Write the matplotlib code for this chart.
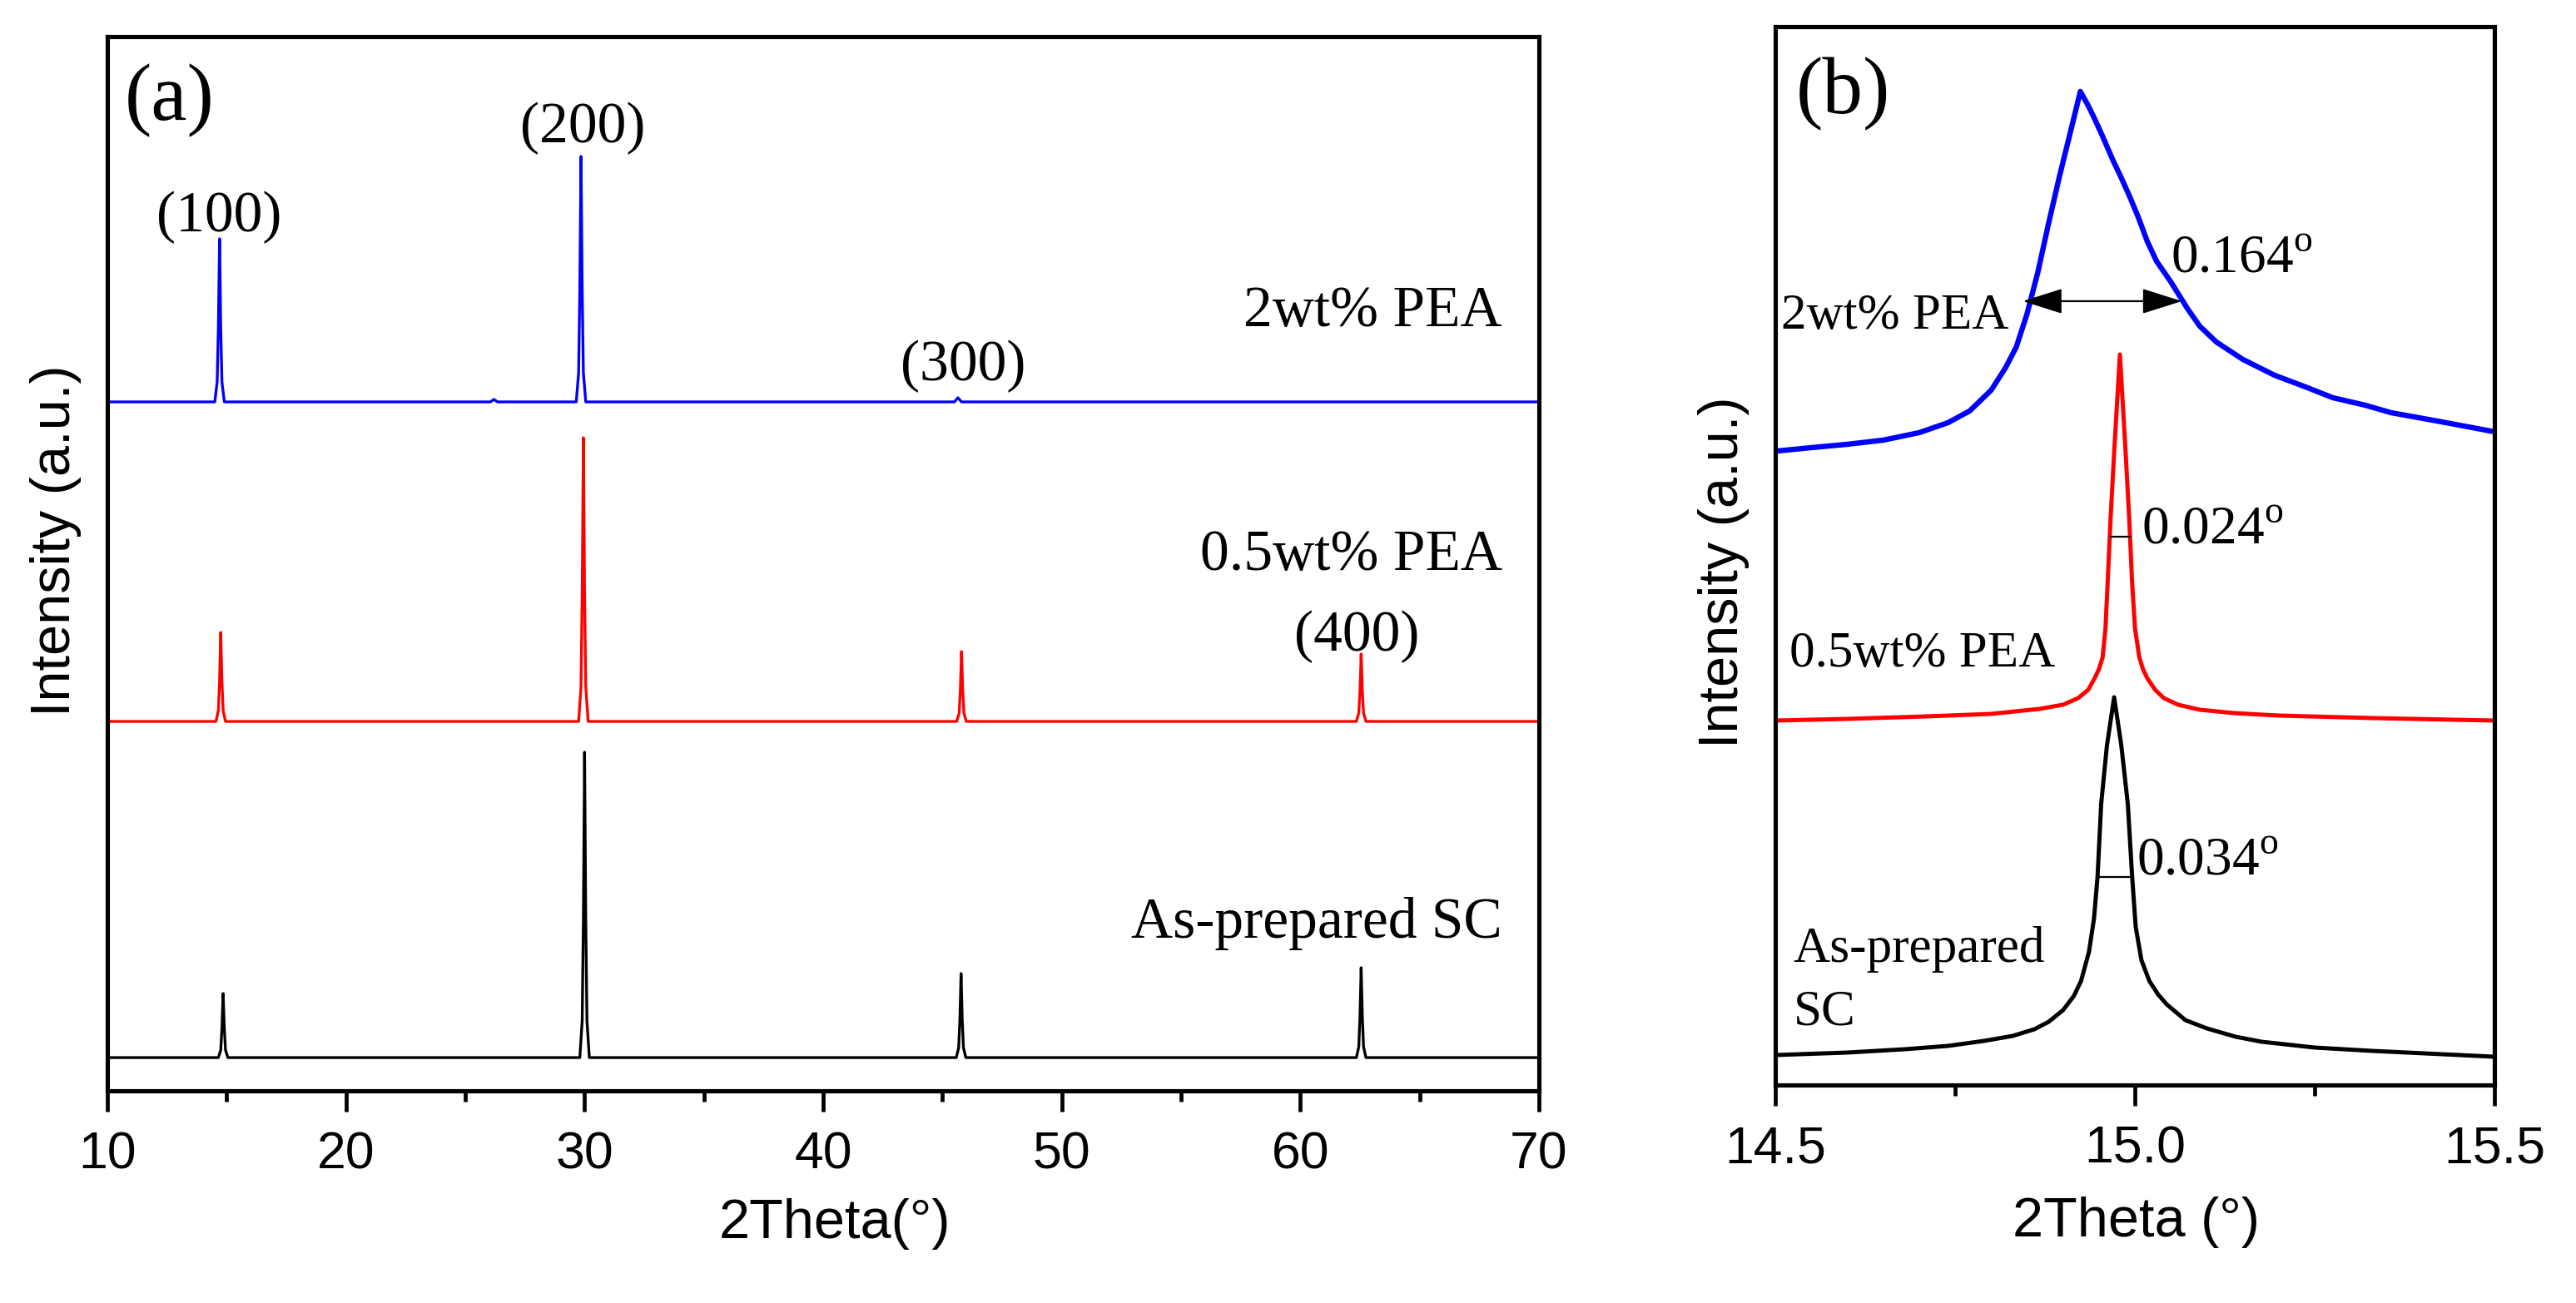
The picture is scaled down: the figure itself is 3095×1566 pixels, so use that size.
import matplotlib
matplotlib.use('Agg')
import matplotlib.pyplot as plt
from matplotlib.ticker import MultipleLocator, FixedLocator, FormatStrFormatter

plt.rcParams.update({
    'font.family': ['Liberation Sans', 'DejaVu Sans'],
    'mathtext.fontset': 'custom',
    'mathtext.rm': 'Liberation Serif',
    'axes.linewidth': 3.7,
})
SERIF = ['Liberation Serif', 'DejaVu Serif']

# ------------------------------------------------------------
# Panel (a): full XRD patterns, intensity above each baseline (a.u.)
# ------------------------------------------------------------
tt_2wt = [10, 14.50, 14.60, 14.65, 14.70, 14.75, 14.80, 14.90,
          26.05, 26.2, 26.35,
          29.65, 29.75, 29.80, 29.85, 29.90, 29.95, 30.05,
          45.50, 45.65, 45.80, 70]
i_2wt = [0, 0, 24, 88, 196, 88, 24, 0,
         0, 3, 0,
         0, 35, 133, 295, 133, 35, 0,
         0, 5, 0, 0]

tt_05wt = [10, 14.55, 14.65, 14.70, 14.75, 14.80, 14.85, 14.95,
           29.75, 29.85, 29.90, 29.95, 30.00, 30.05, 30.15,
           45.60, 45.70, 45.75, 45.80, 45.85, 45.90, 46.00,
           62.35, 62.45, 62.50, 62.55, 62.60, 62.65, 62.75, 70]
i_05wt = [0, 0, 13, 48, 107, 48, 13, 0,
          0, 41, 153, 341, 153, 41, 0,
          0, 10, 38, 84, 38, 10, 0,
          0, 10, 36, 81, 36, 10, 0, 0]

tt_sc = [10, 14.65, 14.75, 14.80, 14.85, 14.90, 14.95, 15.05,
         29.80, 29.90, 29.95, 30.00, 30.05, 30.10, 30.20,
         45.58, 45.68, 45.73, 45.78, 45.83, 45.88, 45.98,
         62.35, 62.45, 62.50, 62.55, 62.60, 62.65, 62.75, 70]
i_sc = [0, 0, 9, 35, 77, 35, 9, 0,
        0, 44, 165, 367, 165, 44, 0,
        0, 12, 45, 101, 45, 12, 0,
        0, 13, 49, 108, 49, 13, 0, 0]

# ------------------------------------------------------------
# Panel (b): zoom on the (100) reflection
# ------------------------------------------------------------
tt_b_2wt = [14.503, 14.55, 14.60, 14.65, 14.70, 14.74, 14.77, 14.80,
            14.82, 14.835, 14.85, 14.865, 14.88, 14.895, 14.905, 14.915,
            14.924, 14.935, 14.944, 14.955, 14.969, 14.98, 14.993, 15.005,
            15.017, 15.03, 15.05, 15.073, 15.09, 15.113, 15.15, 15.194,
            15.24, 15.275, 15.32, 15.356, 15.42, 15.494]
i_b_2wt = [0, 4, 8, 13, 22, 34, 48, 73,
           100, 125, 165, 215, 274, 330, 365, 400,
           432, 415, 399, 378, 350, 330, 305, 280,
           252, 228, 203, 171, 150, 131, 110, 91,
           76, 64, 55, 46, 36, 24]

tt_b_05wt = [14.50, 14.60, 14.71, 14.80, 14.867, 14.90, 14.921, 14.935,
             14.944, 14.950, 14.955, 14.959, 14.962, 14.966, 14.971, 14.979,
             14.987, 14.992, 14.996, 15.000, 15.006, 15.011, 15.017, 15.028,
             15.040, 15.060, 15.090, 15.137, 15.20, 15.33, 15.50]
i_b_05wt = [0, 2, 5, 8, 14, 19, 27, 37,
            51, 62, 76, 111, 166, 242, 322, 440,
            322, 242, 166, 111, 76, 62, 51, 37,
            27, 19, 13, 9, 6, 3, 0]

tt_b_sc = [14.50, 14.60, 14.68, 14.74, 14.79, 14.83, 14.86, 14.88,
           14.90, 14.915, 14.925, 14.936, 14.943, 14.948, 14.953, 14.961,
           14.971, 14.981, 14.990, 14.996, 15.001, 15.009, 15.020, 15.032,
           15.044, 15.070, 15.100, 15.14, 15.176, 15.25, 15.33, 15.50]
i_b_sc = [2, 5, 9, 13, 19, 25, 33, 42,
          56, 73, 91, 126, 166, 217, 304, 374,
          432, 374, 304, 217, 156, 116, 91, 75,
          63, 44, 34, 24, 18, 11, 7, 0]

# FWHM values quoted on panel (b)
fwhm_labels = ['0.164', '0.024', '0.034']

# stacking offsets (a.u.)
off_a = {'sc': 40, '05': 444, '2': 828}
off_b = {'sc': 34, '05': 438, '2': 762}

fig = plt.figure(figsize=(30.95, 15.66), dpi=100)
ax1 = fig.add_axes([0.0417, 0.1628, 0.5557, 0.8091])
ax2 = fig.add_axes([0.6892, 0.1673, 0.2792, 0.8123])

# ---------------- panel (a) ----------------
ax1.plot(tt_sc, [v + off_a['sc'] for v in i_sc], color='black', lw=2.4)
ax1.plot(tt_05wt, [v + off_a['05'] for v in i_05wt], color='#ff0000', lw=2.4)
ax1.plot(tt_2wt, [v + off_a['2'] for v in i_2wt], color='#0000ff', lw=2.4)

ax1.set_xlim(10, 70)
ax1.set_ylim(0, 1267)
ax1.xaxis.set_major_locator(MultipleLocator(10))
ax1.xaxis.set_minor_locator(FixedLocator([15, 25, 35, 45, 55, 65]))

ax1.text(0.0122, 0.921, '(a)', transform=ax1.transAxes, family=SERIF,
         fontsize=70, va='baseline', ha='left')
for lbl, x, y in [('(100)', 14.67, 1033), ('(200)', 29.92, 1140),
                  ('(300)', 45.86, 854), ('(400)', 62.36, 529)]:
    ax1.text(x, y, lbl, family=SERIF, fontsize=50, ha='center', va='baseline')
for lbl, y in [('2wt% PEA', 919), ('0.5wt% PEA', 626), ('As-prepared SC', 184)]:
    ax1.text(68.45, y, lbl, family=SERIF, fontsize=50, ha='right', va='baseline')

ax1.set_xlabel('2Theta(°)', fontsize=48)
ax1.xaxis.set_label_coords(0.508, -0.1397)
ax1.xaxis.label.set_va('baseline')
ax1.set_ylabel('Intensity (a.u.)', fontsize=48)
ax1.yaxis.set_label_coords(-0.036, 0.522)
ax1.yaxis.label.set_va('center')

# ---------------- panel (b) ----------------
ax2.plot(tt_b_sc, [v + off_b['sc'] for v in i_b_sc], color='black', lw=3.6)
ax2.plot(tt_b_05wt, [v + off_b['05'] for v in i_b_05wt], color='#ff0000', lw=3.6)
ax2.plot(tt_b_2wt, [v + off_b['2'] for v in i_b_2wt], color='#0000ff', lw=4.6)

ax2.set_xlim(14.5, 15.5)
ax2.set_ylim(0, 1272)
ax2.xaxis.set_major_locator(FixedLocator([14.5, 15.0, 15.5]))
ax2.xaxis.set_minor_locator(FixedLocator([14.75, 15.25]))
ax2.xaxis.set_major_formatter(FormatStrFormatter('%.1f'))

ax2.text(0.029, 0.918, '(b)', transform=ax2.transAxes, family=SERIF,
         fontsize=70, va='baseline', ha='left')

# FWHM arrow on the 2wt% peak
ax2.annotate('', xy=(14.844, 942), xytext=(15.065, 942),
             arrowprops=dict(arrowstyle='<|-|>,head_length=30,head_width=9.5',
                             mutation_scale=1, color='black', lw=1.6,
                             shrinkA=0, shrinkB=0))
# FWHM markers on the narrow peaks
ax2.plot([14.966, 14.993], [659, 659], color='black', lw=1.6)
ax2.plot([14.950, 14.994], [250, 250], color='black', lw=1.6)

ax2.text(15.05, 976, fwhm_labels[0] + r'$^{\rm o}$', family=SERIF, fontsize=47, va='baseline')
ax2.text(15.009, 650, fwhm_labels[1] + r'$^{\rm o}$', family=SERIF, fontsize=47, va='baseline')
ax2.text(15.002, 252, fwhm_labels[2] + r'$^{\rm o}$', family=SERIF, fontsize=47, va='baseline')

ax2.text(14.508, 909, '2wt% PEA', family=SERIF, fontsize=44, va='baseline')
ax2.text(14.52, 503, '0.5wt% PEA', family=SERIF, fontsize=44, va='baseline')
ax2.text(14.525, 148, 'As-prepared', family=SERIF, fontsize=44, va='baseline')
ax2.text(14.525, 73, 'SC', family=SERIF, fontsize=44, va='baseline')

ax2.set_xlabel('2Theta (°)', fontsize=48)
ax2.xaxis.set_label_coords(0.502, -0.1431)
ax2.xaxis.label.set_va('baseline')
ax2.set_ylabel('Intensity (a.u.)', fontsize=48)
ax2.yaxis.set_label_coords(-0.0718, 0.4843)
ax2.yaxis.label.set_va('center')

for ax in (ax1, ax2):
    ax.tick_params(axis='x', which='major', direction='out', length=18, width=3.4,
                   labelsize=45, pad=16, top=False)
    ax.tick_params(axis='x', which='minor', direction='out', length=9, width=3.4, top=False)
    ax.tick_params(axis='y', which='both', left=False, right=False, labelleft=False)

fig.savefig('out.png', dpi=100)
